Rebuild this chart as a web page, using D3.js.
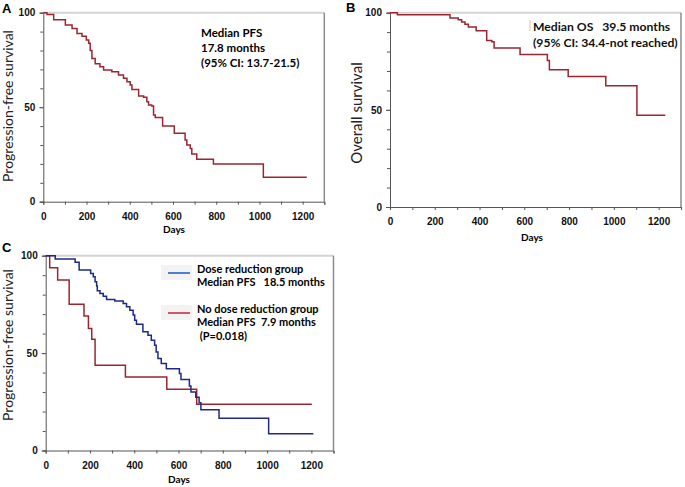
<!DOCTYPE html>
<html>
<head>
<meta charset="utf-8">
<script src="https://cdn.jsdelivr.net/npm/d3@7"></script>
<style>
  body { margin: 0; background: #fff; }
  svg { display: block; font-family: Lato, "Open Sans", sans-serif; }
  text { white-space: pre; }
</style>
</head>
<body>
<div id="chart"></div>
<script>
// Panel A: progression-free survival, all patients
const pfsDays = [0, 17, 48, 102, 133, 156, 179, 199, 210, 217, 225, 240, 262, 279, 317, 348, 371, 387, 402, 410, 441, 464, 479, 487, 502, 510, 518, 552, 606, 656, 664, 680, 687, 710, 787, 1018, 1219];
const pfsSurv = [100, 99, 96.3, 93.5, 91.7, 89, 87.6, 85.5, 83.8, 80, 75.8, 73, 71.4, 69.7, 68.8, 67, 65.3, 63.5, 61.7, 59.4, 55.9, 55.2, 52.9, 51.1, 50.6, 45.9, 44.6, 40, 36.2, 32.6, 30, 28.2, 25.2, 22.4, 19.9, 12.9, 12.9];

// Panel B: overall survival
const osDays = [0, 33, 268, 305, 320, 335, 350, 385, 432, 455, 465, 581, 703, 712, 796, 964, 1103, 1230];
const osSurv = [100, 99, 97.3, 96.4, 95.2, 94.1, 92.6, 90.7, 85.7, 85, 81.8, 78.5, 75.4, 70.6, 67.2, 62.4, 47.2, 47.2];

// Panel C: dose reduction vs no dose reduction
const doseDays = [0, 43, 133, 151, 203, 215, 223, 230, 233, 245, 260, 275, 312, 350, 365, 380, 395, 402, 410, 439, 462, 477, 492, 499, 507, 522, 545, 604, 611, 649, 656, 678, 693, 701, 783, 1007, 1209];
const doseSurv = [100, 98.3, 96.6, 92.6, 90.9, 89.2, 86.6, 84.4, 82, 80.6, 79.2, 77.5, 76.7, 75.5, 73.8, 72, 69.5, 66.9, 64.8, 60.9, 59.2, 56.6, 54, 50.6, 47.2, 44.6, 42, 39.5, 36.5, 33.1, 30, 27.4, 24.5, 20.9, 16.6, 8.6, 8.6];
const noDoseDays = [0, 18, 54, 106, 173, 193, 208, 223, 360, 547, 682, 1202];
const noDoseSurv = [100, 93.8, 87.5, 75.1, 69, 62.6, 57.1, 43.7, 37.7, 31.4, 23.7, 23.7];

const xTickLabels = [0, 200, 400, 600, 800, 1000, 1200];
const yTickLabels = [0, 50, 100];

const RED = "#9b2630";
const BLUE = "#1c2a85";

const width = 685;
const height = 487;

const svg = d3
  .select("#chart")
  .append("svg")
  .attr("width", width)
  .attr("height", height);

// Draw one survival panel
function drawPanel(opt) {
  const x = d3.scaleLinear().domain([0, 1300]).range([opt.left, opt.right]);
  const y = d3.scaleLinear().domain([0, 100]).range([opt.bottom, opt.top]);
  const g = svg.append("g");

  // frame (top + right)
  g.append("line")
    .attr("x1", x(0)).attr("x2", x(1300))
    .attr("y1", y(100)).attr("y2", y(100))
    .attr("stroke", "#d4d4d4").attr("stroke-width", 2);
  g.append("line")
    .attr("x1", x(1300)).attr("x2", x(1300))
    .attr("y1", y(100)).attr("y2", y(0))
    .attr("stroke", "#8c8c8c").attr("stroke-width", 1.5);

  // axes
  const xMinor = d3.range(0, 1301, 100);
  g.append("g")
    .attr("transform", `translate(0, ${y(0)})`)
    .call(d3.axisBottom(x).tickValues(xMinor).tickSize(3).tickFormat(""))
    .call((a) => a.select(".domain").attr("stroke", "#555"))
    .call((a) => a.selectAll(".tick line").attr("stroke", "#555"));
  g.append("g")
    .attr("transform", `translate(0, ${y(0)})`)
    .call(d3.axisBottom(x).tickValues(xTickLabels).tickSize(0).tickPadding(11).tickFormat(d3.format("d")))
    .call((a) => a.select(".domain").remove())
    .selectAll("text")
    .style("font-size", "10px")
    .style("font-weight", "bold")
    .attr("fill", "#111");

  g.append("g")
    .attr("transform", `translate(${x(0)}, 0)`)
    .call(d3.axisLeft(y).tickValues(d3.range(0, 101, 10)).tickSize(3).tickFormat(""))
    .call((a) => a.select(".domain").attr("stroke", "#555"))
    .call((a) => a.selectAll(".tick line").attr("stroke", "#555"));
  g.append("g")
    .attr("transform", `translate(${x(0)}, 0)`)
    .call(d3.axisLeft(y).tickValues(yTickLabels).tickSize(4).tickPadding(4))
    .call((a) => a.select(".domain").remove())
    .call((a) => a.selectAll(".tick line").attr("stroke", "#555"))
    .selectAll("text")
    .style("font-size", "10px")
    .style("font-weight", "bold")
    .attr("fill", "#111");

  // axis titles
  g.append("text")
    .attr("x", opt.xTitle[0])
    .attr("y", opt.xTitle[1])
    .attr("text-anchor", "middle")
    .style("font-size", "10px")
    .style("font-weight", "bold")
    .text("Days");
  g.append("text")
    .attr("transform", `translate(${opt.yTitle[0]}, ${opt.yTitle[1]}) rotate(-90)`)
    .attr("text-anchor", "middle")
    .style("font-size", opt.yTitleSize)
    .attr("fill", "#222")
    .text(opt.yLabel);

  // panel letter
  g.append("text")
    .attr("x", opt.letter[0])
    .attr("y", opt.letter[1])
    .style("font-family", "'Liberation Sans', Arial, sans-serif")
    .style("font-size", "13px")
    .style("font-weight", "bold")
    .text(opt.letter[2]);

  // curves
  const line = d3
    .line()
    .x((d) => x(d[0]))
    .y((d) => y(d[1]))
    .curve(d3.curveStepAfter);
  opt.curves.forEach((c) => {
    g.append("path")
      .datum(d3.zip(c.days, c.surv))
      .attr("fill", "none")
      .attr("stroke", c.color)
      .attr("stroke-width", 1.5)
      .attr("d", line);
  });
  return { x, y, g };
}

// Panel A
const pA = drawPanel({
  left: 43.3, right: 324.3, top: 12.7, bottom: 201.7,
  xTitle: [174, 233], yTitle: [13, 106], yTitleSize: "14px",
  yLabel: "Progression-free survival", letter: [2, 13, "A"],
  curves: [{ days: pfsDays, surv: pfsSurv, color: RED }],
});
["Median PFS", "17.8 months", "(95% CI: 13.7-21.5)"].forEach((t, i) => {
  pA.g.append("text")
    .attr("x", 201).attr("y", 37 + i * 15)
    .style("font-size", "11.5px").style("font-weight", "bold")
    .text(t);
});

// Panel B
const pB = drawPanel({
  left: 390, right: 681, top: 12.7, bottom: 207,
  xTitle: [532, 241], yTitle: [362, 113], yTitleSize: "15px",
  yLabel: "Overall survival", letter: [346, 12, "B"],
  curves: [{ days: osDays, surv: osSurv, color: RED }],
});
pB.g.append("line")
  .attr("x1", 530).attr("x2", 530).attr("y1", 20).attr("y2", 31)
  .attr("stroke", "#f0d9b0").attr("stroke-width", 1.5);
["Median OS   39.5 months", "(95% CI: 34.4-not reached)"].forEach((t, i) => {
  pB.g.append("text")
    .attr("x", 533).attr("y", 31 + i * 15.5)
    .style("font-size", "12.2px").style("font-weight", "bold")
    .attr("fill", "#111")
    .text(t);
});

// Panel C
const pC = drawPanel({
  left: 45.7, right: 333.5, top: 255.7, bottom: 450.5,
  xTitle: [179, 483], yTitle: [13, 345], yTitleSize: "14px",
  yLabel: "Progression-free survival", letter: [2, 252, "C"],
  curves: [
    { days: noDoseDays, surv: noDoseSurv, color: RED },
    { days: doseDays, surv: doseSurv, color: BLUE },
  ],
});

// Legend C
const legend = [
  { color: "#4f7fd8", y: 273, lines: ["Dose reduction group", "Median PFS   18.5 months"] },
  { color: "#d0586a", y: 313, lines: ["No dose reduction group", "Median PFS  7.9 months", " (P=0.018)"] },
];
legend.forEach((d) => {
  pC.g.append("rect")
    .attr("x", 161).attr("y", d.y - 8)
    .attr("width", 31).attr("height", 15)
    .attr("fill", "#f3f3f3");
  pC.g.append("line")
    .attr("x1", 168).attr("x2", 190)
    .attr("y1", d.y).attr("y2", d.y)
    .attr("stroke", d.color).attr("stroke-width", 2);
  d.lines.forEach((t, i) => {
    pC.g.append("text")
      .attr("x", 197).attr("y", d.y - 0.5 + i * 13.5)
      .style("font-size", "11px").style("font-weight", "bold")
      .text(t);
  });
});
</script>
</body>
</html>
